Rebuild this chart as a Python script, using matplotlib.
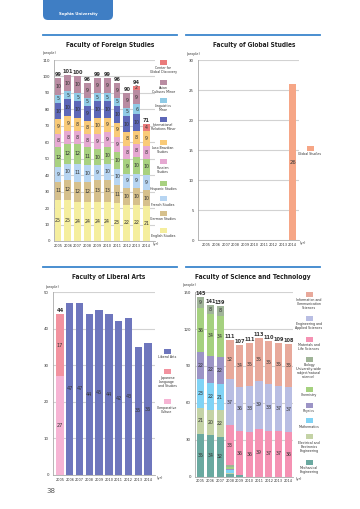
import matplotlib
matplotlib.use("Agg")
import matplotlib.pyplot as plt
import matplotlib.transforms as mtransforms
from matplotlib.patches import FancyBboxPatch, Rectangle
from matplotlib.lines import Line2D
import numpy as np

plt.rcParams['font.family'] = ['DejaVu Sans Condensed', 'DejaVu Sans']

years = [str(y) for y in range(2005, 2015)]

# Faculty of Foreign Studies (bottom -> top)
fs_english = [25, 25, 24, 24, 24, 24, 23, 22, 22, 21]
fs_german = [11, 12, 12, 12, 13, 13, 11, 10, 10, 10]
fs_french = [9, 10, 11, 10, 9, 10, 10, 9, 9, 9]
fs_hispanic = [12, 12, 12, 11, 10, 10, 10, 9, 10, 10]
fs_russian = [8, 8, 8, 8, 9, 9, 9, 8, 8, 8]
fs_luso = [9, 9, 8, 8, 10, 9, 9, 8, 8, 9]
fs_ir = [10, 10, 10, 9, 10, 10, 10, 10, 10, 0]
fs_ling = [5, 5, 5, 5, 5, 5, 5, 5, 6, 0]
fs_asian = [10, 10, 10, 9, 9, 9, 9, 9, 9, 0]
fs_cgd = [0, 0, 0, 0, 0, 0, 0, 0, 2, 4]
fs_totals = [99, 101, 100, 96, 99, 99, 96, 90, 94, 71]
fs_labels = ["English Studies", "German Studies", "French Studies", "Hispanic Studies",
             "Russian\nStudies", "Luso-Brazilian\nStudies", "International\nRelations Minor",
             "Linguistics\nMinor", "Asian\nCultures Minor", "Center for\nGlobal Discovery"]

# Faculty of Global Studies
gs_global = [0, 0, 0, 0, 0, 0, 0, 0, 0, 26]

# Faculty of Liberal Arts (bottom -> top)
la_comparative = [27, 0, 0, 0, 0, 0, 0, 0, 0, 0]
la_japanese = [17, 0, 0, 0, 0, 0, 0, 0, 0, 0]
la_liberal = [0, 47, 47, 44, 45, 44, 42, 43, 35, 36]
la_totals = [44, None, None, None, None, None, None, None, None, None]
la_labels = ["Comparative\nCulture", "Japanese\nLanguage\nand Studies", "Liberal Arts"]

# Faculty of Science and Technology (bottom -> top)
st_mech = [35, 34, 32, 2, 1, 0, 0, 0, 0, 0]
st_elec = [21, 20, 22, 1, 0, 0, 0, 0, 0, 0]
st_math = [23, 22, 21, 2, 0, 0, 0, 0, 0, 0]
st_physics = [22, 22, 22, 1, 0, 0, 0, 0, 0, 0]
st_chem = [36, 34, 34, 2, 0, 0, 0, 0, 0, 0]
st_bio = [9, 8, 8, 1, 0, 0, 0, 0, 0, 0]
st_materials = [0, 0, 0, 33, 36, 36, 39, 37, 37, 36]
st_engineering = [0, 0, 0, 37, 36, 38, 39, 38, 37, 37]
st_info = [0, 0, 0, 32, 34, 35, 35, 35, 35, 35]
st_totals = [145, 141, 139, 111, 107, 111, 113, 110, 109, 108]
st_labels = ["Mechanical\nEngineering", "Electrical and\nElectronics\nEngineering",
             "Mathematics", "Physics", "Chemistry",
             "Biology\n(University-wide\nsubject/natural\nscience)",
             "Materials and\nLife Sciences", "Engineering and\nApplied Sciences",
             "Information and\nCommunication\nSciences"]

W, H = 360, 509
fig = plt.figure(figsize=(W / 100, H / 100), dpi=100)
renderer = fig.canvas.get_renderer()

TXT = '#333333'
GRID = '#d2d2d2'


def fx(x):
    return x / W


def fy(y):
    return 1 - y / H


def make_axes(left, right, top, bottom, x0, x9, ymax, ystep):
    ax = fig.add_axes([fx(left), fy(bottom), fx(right - left), fy(top) - fy(bottom)])
    s = (x9 - x0) / 9
    ax.set_xlim((left - x0) / s, (right - x0) / s)
    ax.set_ylim(0, ymax)
    ax.set_yticks(np.arange(0, ymax + 1, ystep))
    ax.set_xticks(np.arange(10), years)
    ax.tick_params(axis='x', length=0, labelsize=2.5, pad=2, colors=TXT)
    ax.tick_params(axis='y', length=0, labelsize=2.8, pad=3, colors=TXT)
    ax.yaxis.grid(True, color=GRID, lw=0.8, zorder=0)
    ax.set_axisbelow(True)
    for sp in ['top', 'right']:
        ax.spines[sp].set_visible(False)
    for sp in ['left', 'bottom']:
        ax.spines[sp].set_color('#aaaaaa')
        ax.spines[sp].set_linewidth(0.6)
    return ax


def stacked(ax, layers, colors, width, min_label=2, fs=3.4):
    x = np.arange(len(years))
    bottom = np.zeros(len(years))
    for vals, col in zip(layers, colors):
        v = np.array(vals, dtype=float)
        ax.bar(x, v, width, bottom=bottom, color=col, lw=0, zorder=2)
        for xi, b, h in zip(x, bottom, v):
            if h >= min_label:
                ax.text(xi, b + h / 2, f"{int(h)}", ha='center', va='center',
                        fontsize=fs, color=TXT, zorder=3)
        bottom += v
    return bottom


def totals(ax, tops, vals, fs=3.6):
    for xi, (t, v) in enumerate(zip(tops, vals)):
        if v is not None:
            ax.text(xi, t, f"{v}", ha='center', va='bottom', fontsize=fs,
                    fontweight='bold', color=TXT, zorder=3)


def legend_item(xc, ysq, color, label, fs=2.3):
    fig.patches.append(Rectangle((fx(xc - 3.5), fy(ysq + 2.5)), fx(7), 5 / H,
                                 transform=fig.transFigure, color=color, lw=0))
    fig.text(fx(xc), fy(ysq + 3.8), label, ha='center', va='top', fontsize=fs,
             color=TXT, linespacing=1.05)


def header(x0, x1, y_line, title, xc, width_px):
    fig.add_artist(Line2D([fx(x0), fx(x1)], [fy(y_line), fy(y_line)],
                          transform=fig.transFigure, color='#3a86cd', lw=1.3))
    t = fig.text(fx(xc), fy(y_line + 9.5), title, ha='center', va='center', fontsize=6,
                 fontweight='bold', fontstretch='condensed', color='#222222',
                 family=['Liberation Sans Narrow', 'DejaVu Sans'])
    # size the title to the width it takes in the page
    w = t.get_window_extent(renderer).width
    t.set_fontsize(min(6.4, 6 * width_px / w))


# banner
banner = FancyBboxPatch((43, H - 20), 70, 30, boxstyle="round,pad=0,rounding_size=5",
                        transform=mtransforms.IdentityTransform(), color='#3f7ec4', lw=0)
fig.patches.append(banner)
fig.text(fx(78), fy(13.5), "Sophia University", ha='center', va='center',
         fontsize=2.8, color='white', fontweight='bold')

# ---------------- Foreign Studies ----------------
header(43, 177, 35, "Faculty of Foreign Studies", 110, 89)
fs_colors = ['#f5ee9e', '#d6c08c', '#b7d5f2', '#a8d180', '#e6a9d2', '#f9ca78',
             '#5d67b8', '#90cbe6', '#b98ca2', '#ea7b7b']
ax1 = make_axes(54, 155, 60, 241, 58, 146.5, 110, 10)
tops = stacked(ax1, [fs_english, fs_german, fs_french, fs_hispanic, fs_russian, fs_luso,
                     fs_ir, fs_ling, fs_asian, fs_cgd], fs_colors, 0.68)
totals(ax1, tops + 0.6, fs_totals)
fig.text(fx(43), fy(53), "(people)", fontsize=2.4, color=TXT, va='center')
fig.text(fx(153), fy(243.5), "(yr)", fontsize=2.6, color=TXT, va='center')
fs_sq = [230, 213, 199, 183, 162, 142, 119, 100, 82, 62]
for ysq, col, lab in zip(fs_sq, fs_colors, fs_labels):
    legend_item(163, ysq, col, lab)

# ---------------- Global Studies ----------------
header(186, 320, 35, "Faculty of Global Studies", 254, 84)
ax2 = make_axes(198, 299, 60, 240, 206.7, 292.7, 30, 5)
stacked(ax2, [gs_global], ['#f6a686'], 0.7, fs=3.8)
fig.text(fx(187), fy(54), "(people)", fontsize=2.4, color=TXT, va='center')
fig.text(fx(300), fy(243), "(yr)", fontsize=2.6, color=TXT, va='center')
legend_item(310, 148, '#f6a686', "Global Studies")

# ---------------- Liberal Arts ----------------
header(43, 177, 267, "Faculty of Liberal Arts", 109, 74)
la_colors = ['#f6b4d4', '#f2929f', '#6e76bd']
ax3 = make_axes(53, 155, 292, 475, 60, 148, 50, 10)
tops = stacked(ax3, [la_comparative, la_japanese, la_liberal], la_colors, 0.75, fs=3.6)
totals(ax3, tops + 0.3, la_totals, fs=3.8)
fig.text(fx(46), fy(287), "(people)", fontsize=2.4, color=TXT, va='center')
fig.text(fx(157), fy(478.5), "(yr)", fontsize=2.6, color=TXT, va='center')
for ysq, col, lab in zip([401.7, 371.7, 351], la_colors, la_labels):
    legend_item(167, ysq, col, lab)

# ---------------- Science and Technology ----------------
header(186, 320, 267, "Faculty of Science and Technology", 253, 117)
st_colors = ['#6aa9a0', '#c4d3a6', '#80d3f5', '#9c94c6', '#a5d17f', '#a0b498',
             '#f592b3', '#b9bee3', '#e8a99b']
ax4 = make_axes(195, 293, 292.3, 476.5, 200.7, 288.3, 150, 30)
tops = stacked(ax4, [st_mech, st_elec, st_math, st_physics, st_chem, st_bio,
                     st_materials, st_engineering, st_info], st_colors, 0.75, min_label=3)
totals(ax4, tops + 0.8, st_totals)
fig.text(fx(183), fy(285), "(people)", fontsize=2.4, color=TXT, va='center')
fig.text(fx(296), fy(479), "(yr)", fontsize=2.6, color=TXT, va='center')
st_sq = [462, 436.7, 420.7, 405, 389, 359, 339, 318.3, 294.3]
for ysq, col, lab in zip(st_sq, st_colors, st_labels):
    legend_item(309, ysq, col, lab)

fig.text(fx(46), fy(491), "38", fontsize=5, color='#555555', va='center')

fig.savefig("out.png", dpi=100)
